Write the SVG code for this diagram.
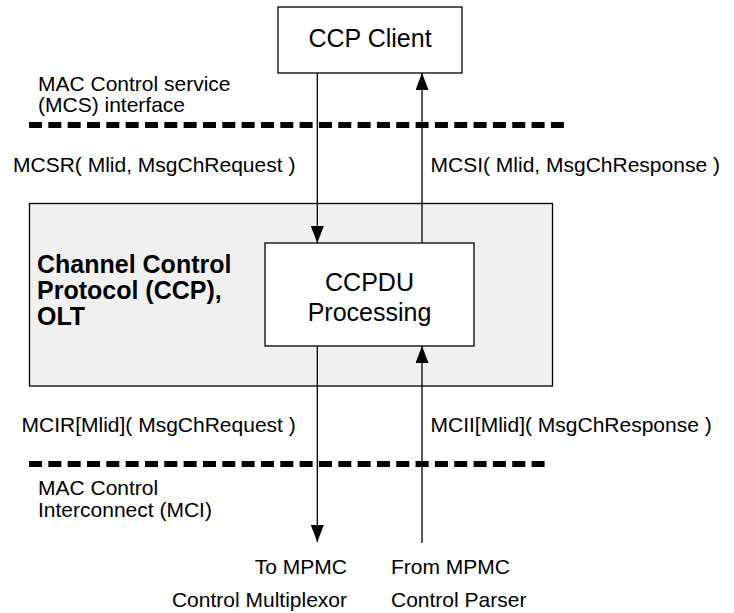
<svg xmlns="http://www.w3.org/2000/svg" width="734" height="613" viewBox="0 0 734 613">
<style>
  .lbl { font-family: "Liberation Sans", Arial, sans-serif; font-size: 21px; fill: #000; }
  .box { fill: #fff; stroke: #000; stroke-width: 1.3; }
  .big { font-family: "Liberation Sans", Arial, sans-serif; font-size: 25px; fill: #000; text-anchor: middle; }
  .bold { font-family: "Liberation Sans", Arial, sans-serif; font-size: 25px; font-weight: bold; fill: #000; }
  .dash { stroke: #000; stroke-width: 6; stroke-dasharray: 13 6.33; fill: none; }
  .conn { stroke: #000; stroke-width: 1.3; fill: none; marker-end: url(#arrow); }
</style>
<defs>
  <marker id="arrow" markerUnits="userSpaceOnUse" markerWidth="17" markerHeight="13" refX="17" refY="6.5" orient="auto">
    <path d="M0,0 L17,6.5 L0,13 z" fill="#000"/>
  </marker>
</defs>
<rect width="734" height="613" fill="#fff"/>

<g id="ccp-olt">
  <rect x="29.5" y="203.5" width="523" height="182.5" fill="#f0f0f0" stroke="#000" stroke-width="1.3"/>
  <text class="bold" x="37" y="273">Channel Control</text>
  <text class="bold" x="37" y="299">Protocol (CCP),</text>
  <text class="bold" x="37" y="325">OLT</text>
</g>

<g id="ccp-client">
  <rect class="box" x="278" y="7" width="184" height="66"/>
  <text class="big" x="370" y="47">CCP Client</text>
</g>

<g id="ccpdu">
  <rect class="box" x="265" y="243" width="209" height="103"/>
  <text class="big" x="369.5" y="291">CCPDU</text>
  <text class="big" x="369.5" y="321">Processing</text>
</g>

<g id="interfaces">
  <line class="dash" x1="29" y1="125" x2="565" y2="125"/>
  <line class="dash" x1="29" y1="464" x2="546" y2="464"/>
  <text class="lbl" x="38" y="91">MAC Control service</text>
  <text class="lbl" x="38" y="112">(MCS) interface</text>
  <text class="lbl" x="38" y="495">MAC Control</text>
  <text class="lbl" x="38" y="517">Interconnect (MCI)</text>
</g>

<g id="connectors">
  <line class="conn" x1="317.3" y1="73" x2="317.3" y2="243"/>
  <line class="conn" x1="422" y1="243" x2="422" y2="73"/>
  <line class="conn" x1="317.3" y1="346" x2="317.3" y2="542"/>
  <line class="conn" x1="422" y1="543" x2="422" y2="346"/>
  <text class="lbl" x="13" y="171.5">MCSR( Mlid, MsgChRequest )</text>
  <text class="lbl" x="430.5" y="171.5">MCSI( Mlid, MsgChResponse )</text>
  <text class="lbl" x="21.5" y="432">MCIR[Mlid]( MsgChRequest )</text>
  <text class="lbl" x="430.5" y="432">MCII[Mlid]( MsgChResponse )</text>
  <text class="lbl" x="347" y="573.5" text-anchor="end">To MPMC</text>
  <text class="lbl" x="347" y="606.5" text-anchor="end">Control Multiplexor</text>
  <text class="lbl" x="391" y="573.5">From MPMC</text>
  <text class="lbl" x="391" y="606.5">Control Parser</text>
</g>
</svg>
